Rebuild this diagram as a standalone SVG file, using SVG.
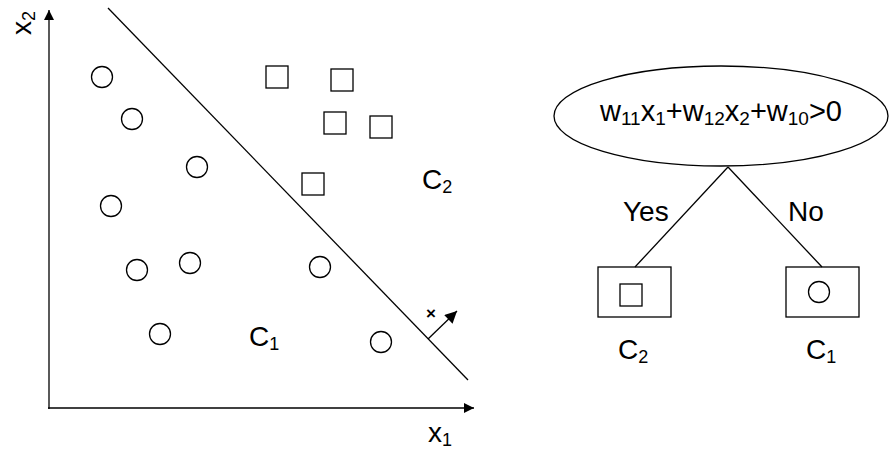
<svg xmlns="http://www.w3.org/2000/svg" width="895" height="452" viewBox="0 0 895 452">
<style>
.s{fill:none;stroke:#000;stroke-width:1.3}
.t{font-family:"Liberation Sans",Arial,sans-serif;font-size:28px;fill:#000}
.sub{font-size:18px}
.f{font-size:29px}
.fs{font-size:19px}
</style>
<defs>
<marker id="ah" viewBox="0 0 10 10" refX="10" refY="5" markerWidth="15" markerHeight="10" markerUnits="userSpaceOnUse" orient="auto"><path d="M0,0 L10,5 L0,10 Z" fill="#000"/></marker>
<marker id="ah2" viewBox="0 0 10 10" refX="10" refY="5" markerWidth="16" markerHeight="12" markerUnits="userSpaceOnUse" orient="auto"><path d="M0,0 L10,5 L0,10 Z" fill="#000"/></marker>
</defs>
<rect width="895" height="452" fill="#fff"/>
<g id="connectors">
<line class="s" x1="49" y1="409" x2="49" y2="10" marker-end="url(#ah)"/>
<line class="s" x1="48" y1="408" x2="474" y2="408" marker-end="url(#ah)"/>
<line class="s" x1="108" y1="8" x2="468" y2="380" stroke-width="2"/>
<line class="s" x1="428" y1="339" x2="457" y2="311" marker-end="url(#ah2)"/>
<line class="s" x1="728" y1="167" x2="635" y2="267"/>
<line class="s" x1="728" y1="167" x2="822" y2="267"/>
</g>
<g id="axis-labels">
<text class="t" transform="translate(31,35) rotate(-90)">x<tspan class="sub" dy="4">2</tspan></text>
<text class="t" x="428" y="442">x<tspan class="sub" dy="4">1</tspan></text>
<text x="431" y="319" font-family="Liberation Sans,Arial,sans-serif" font-size="17" font-weight="bold" text-anchor="middle">×</text>
</g>
<g id="circles">
<circle class="s" cx="102" cy="77" r="10.5"/>
<circle class="s" cx="132" cy="119" r="10.5"/>
<circle class="s" cx="197" cy="167" r="10.5"/>
<circle class="s" cx="111" cy="206" r="10.5"/>
<circle class="s" cx="137" cy="270" r="10.5"/>
<circle class="s" cx="190" cy="263" r="10.5"/>
<circle class="s" cx="320" cy="267" r="10.5"/>
<circle class="s" cx="160" cy="334" r="10.5"/>
<circle class="s" cx="381" cy="342" r="10.5"/>
</g>
<g id="squares">
<rect class="s" x="266" y="66" width="22" height="22"/>
<rect class="s" x="331" y="69" width="22" height="22"/>
<rect class="s" x="324" y="112" width="22" height="22"/>
<rect class="s" x="370" y="116" width="22" height="22"/>
<rect class="s" x="302" y="173" width="22" height="22"/>
</g>
<g id="region-labels">
<text class="t" x="422" y="189">C<tspan class="sub" dy="4">2</tspan></text>
<text class="t" x="249" y="346">C<tspan class="sub" dy="4">1</tspan></text>
</g>
<g id="decision">
<ellipse class="s" cx="721" cy="116" rx="167" ry="50"/>
<text class="t f" x="600" y="121">w<tspan class="fs" dy="4">11</tspan><tspan dy="-4">x</tspan><tspan class="fs" dy="4">1</tspan><tspan dy="-4">+w</tspan><tspan class="fs" dy="4">12</tspan><tspan dy="-4">x</tspan><tspan class="fs" dy="4">2</tspan><tspan dy="-4">+w</tspan><tspan class="fs" dy="4">10</tspan><tspan dy="-4">&gt;0</tspan></text>
</g>
<g id="edge-labels">
<text class="t" x="623" y="221" font-size="30">Yes</text>
<text class="t" x="788" y="221" font-size="30">No</text>
</g>
<g id="leaf-c2">
<rect class="s" x="598" y="267" width="73" height="50"/>
<rect class="s" x="620" y="284" width="22" height="22"/>
<text class="t" x="618" y="359">C<tspan class="sub" dy="4">2</tspan></text>
</g>
<g id="leaf-c1">
<rect class="s" x="786" y="267" width="73" height="50"/>
<circle class="s" cx="819" cy="292" r="10.5"/>
<text class="t" x="806" y="359">C<tspan class="sub" dy="4">1</tspan></text>
</g>
</svg>
